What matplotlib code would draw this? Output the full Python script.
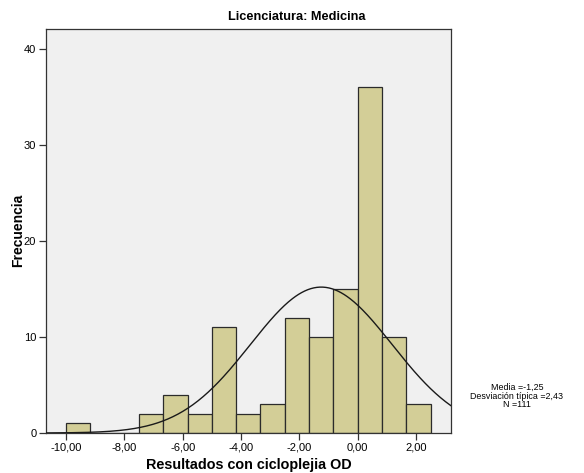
import numpy as np
import matplotlib.pyplot as plt

plt.rcParams['font.family'] = ['Liberation Sans', 'DejaVu Sans']

# histogram bins (width 5/6) and counts
bin_width = 5 / 6
bin_edges = np.arange(-12, 4) * bin_width
counts = [1, 0, 0, 2, 4, 2, 11, 2, 3, 12, 10, 15, 36, 10, 3]
media = -1.25
desv = 2.43
n = 111
x_ticks = [-10, -8, -6, -4, -2, 0, 2]
y_ticks = [0, 10, 20, 30, 40]


def coma(v):
    return f'{v:.2f}'.replace('.', ',')


fig = plt.figure(figsize=(5.84, 4.73), dpi=100)
ax = fig.add_axes([0.0788, 0.0846, 0.6929, 0.8551])
ax.set_facecolor('#F0F0F0')

ax.bar(bin_edges[:-1], counts, width=bin_width, align='edge',
       color='#D3CE97', edgecolor='#2b2b2b', linewidth=0.9, zorder=2)

# normal curve scaled to the histogram
xs = np.linspace(-10.69, 3.19, 400)
ys = n * bin_width / (desv * np.sqrt(2 * np.pi)) * np.exp(-0.5 * ((xs - media) / desv) ** 2)
ax.plot(xs, ys, color='#1a1a1a', linewidth=1.0, zorder=3)

ax.set_xlim(-10.69, 3.19)
ax.set_ylim(0, 42.1)
ax.set_xticks(x_ticks)
ax.set_xticklabels([coma(v) for v in x_ticks])
ax.set_yticks(y_ticks)
ax.tick_params(labelsize=8, length=5, width=0.9, color='#333333', pad=2)
for s in ax.spines.values():
    s.set_color('#333333')
    s.set_linewidth(0.9)

ax.set_xlabel('Resultados con cicloplejia OD', fontsize=10.4, fontweight='bold', labelpad=4)
ax.set_ylabel('Frecuencia', fontsize=10, fontweight='bold')
ax.yaxis.set_label_coords(-0.052, 0.5)

fig.text(297 / 584, 1 - 17 / 473, 'Licenciatura: Medicina', ha='center', va='center',
         fontsize=9.2, fontweight='bold')
fig.text(517 / 584, 1 - 396 / 473,
         f'Media ={coma(media)}\nDesviación típica ={coma(desv)}\nN ={n}',
         ha='center', va='center', fontsize=6.4, linespacing=0.95)

fig.savefig('out.png', dpi=100)
